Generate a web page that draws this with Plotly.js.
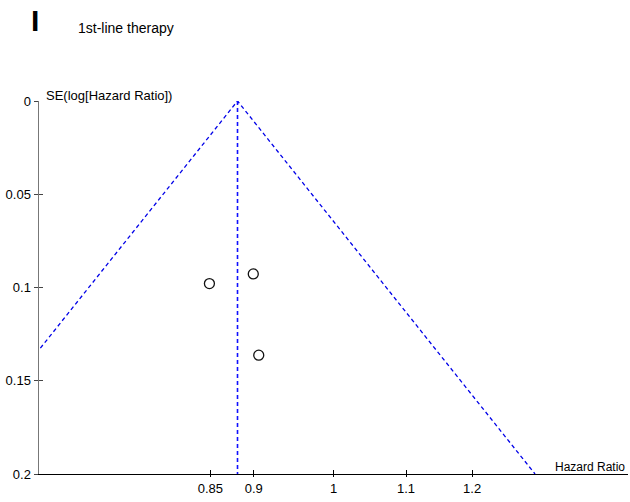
<!DOCTYPE html>
<html>
<head>
<meta charset="utf-8">
<script src="https://cdn.plot.ly/plotly-3.0.1.min.js"></script>
<style>html,body{margin:0;padding:0;background:#fff;}#chart{width:630px;height:502px;}</style>
</head>
<body>
<div id="chart"></div>
<script>
// Study estimates
const hazardRatio = [0.849, 0.8995, 0.906];
const seLogHR = [0.0979, 0.0927, 0.1363];
// Pooled (fixed-effect) hazard ratio, apex of the funnel
const pooledHR = 0.881;
const seMax = 0.2;
const xTickVals = [0.85, 0.9, 1, 1.1, 1.2];
const xTickText = ['0.85', '0.9', '1', '1.1', '1.2'];
const yTickVals = [0, 0.05, 0.1, 0.15, 0.2];
const yTickText = ['0', '0.05', '0.1', '0.15', '0.2'];

const FONT = 'Liberation Sans, Arial, sans-serif';
// funnel (95% pseudo-confidence limits)
const funnelX = [pooledHR * Math.exp(-1.96 * seMax), pooledHR, pooledHR * Math.exp(1.96 * seMax)];
const funnelY = [seMax, 0, seMax];

const traces = [
  {x: funnelX, y: funnelY, mode: 'lines',
   line: {color: '#0000e8', width: 1.3, dash: '4px,3px'}, hoverinfo: 'skip', showlegend: false},
  {x: [pooledHR, pooledHR], y: [0, seMax], mode: 'lines',
   line: {color: '#1010ff', width: 1.6, dash: '4px,3px'}, hoverinfo: 'skip', showlegend: false},
  {x: hazardRatio, y: seLogHR, mode: 'markers', showlegend: false,
   marker: {symbol: 'circle-open', size: 10, color: '#111', line: {width: 1.3, color: '#111'}}},
  {x: [], y: [], xaxis: 'x2', yaxis: 'y2', mode: 'markers', showlegend: false, hoverinfo: 'skip'}
];

const W = 589, H = 373, L = 39, T = 101;
const px = v => (v - L) / W;
const py = v => (T + H - v) / H;

const xRange = [-0.1686, 0.1684];
const layout = {
  width: 630, height: 502,
  margin: {l: 39, r: 2, t: 101, b: 28, pad: 0},
  paper_bgcolor: '#fff', plot_bgcolor: '#fff',
  font: {family: FONT, size: 13, color: '#000'},
  showlegend: false,
  xaxis: {
    type: 'log', range: xRange, tickvals: xTickVals, ticktext: xTickText,
    showgrid: false, zeroline: false, showline: true, linecolor: '#000', linewidth: 1,
    ticks: 'outside', ticklen: 2, tickcolor: '#000', tickwidth: 1,
    tickfont: {family: FONT, size: 13, color: '#000'}, fixedrange: true
  },
  xaxis2: {
    type: 'log', range: xRange, overlaying: 'x', anchor: 'y', side: 'bottom',
    tickvals: xTickVals, showticklabels: false, showgrid: false, zeroline: false, showline: false,
    ticks: 'inside', ticklen: 4, tickcolor: '#000', tickwidth: 1, fixedrange: true
  },
  yaxis: {
    range: [seMax, 0], tickvals: yTickVals, ticktext: yTickText,
    showgrid: false, zeroline: false, showline: true, linecolor: '#777', linewidth: 1.5,
    ticks: 'outside', ticklen: 4, tickcolor: '#444', tickwidth: 1,
    tickfont: {family: FONT, size: 13, color: '#000'}, fixedrange: true
  },
  yaxis2: {
    range: [seMax, 0], overlaying: 'y', anchor: 'x', side: 'left',
    tickvals: yTickVals, showticklabels: false, showgrid: false, zeroline: false, showline: false,
    ticks: 'inside', ticklen: 4, tickcolor: '#444', tickwidth: 1, fixedrange: true
  },
  annotations: [
    {text: '<b>I</b>', xref: 'paper', yref: 'paper', x: px(29), y: py(20), xanchor: 'left', yanchor: 'middle',
     showarrow: false, font: {family: FONT, size: 30, color: '#000'}},
    {text: '1st-line therapy', xref: 'paper', yref: 'paper', x: px(76), y: py(28), xanchor: 'left', yanchor: 'middle',
     showarrow: false, font: {family: FONT, size: 14, color: '#000'}},
    {text: 'SE(log[Hazard Ratio])', xref: 'paper', yref: 'paper', x: px(44), y: py(95), xanchor: 'left', yanchor: 'middle',
     showarrow: false, font: {family: FONT, size: 13, color: '#000'}},
    {text: 'Hazard Ratio', xref: 'paper', yref: 'paper', x: px(553), y: py(467), xanchor: 'left', yanchor: 'middle',
     showarrow: false, font: {family: FONT, size: 12, color: '#000'}}
  ]
};

Plotly.newPlot('chart', traces, layout, {displayModeBar: false, staticPlot: true});
</script>
</body>
</html>
